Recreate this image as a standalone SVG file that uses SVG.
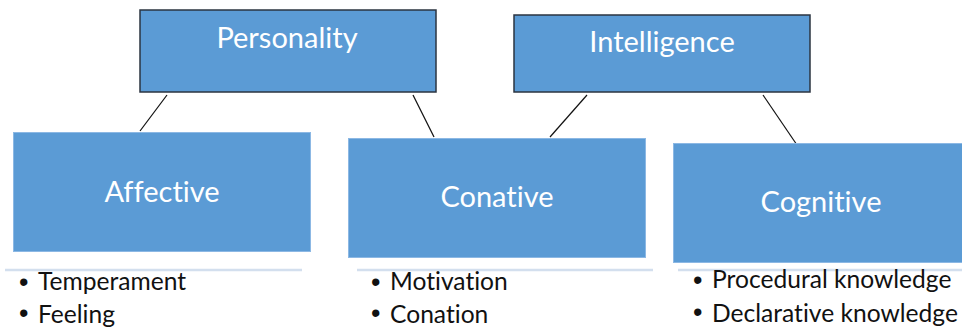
<svg xmlns="http://www.w3.org/2000/svg" width="962" height="329" viewBox="0 0 962 329">
<style>
.top{fill:#5b9bd5;stroke:#2b3440;stroke-width:1.5}
.bot{fill:#5b9bd5;stroke:#8cb8e4;stroke-width:1}
.sep{stroke:#d3dfee;stroke-width:2.5}
text{font-variant-ligatures:none;font-feature-settings:"liga" 0}
.lbl{font-family:Lato,"Liberation Sans",sans-serif;font-size:29px;fill:#ffffff;text-anchor:middle}
.bl{font-family:Lato,"Liberation Sans",sans-serif;font-size:24.6px;fill:#111111}
.dot{font-family:"Liberation Sans",sans-serif;font-size:27px;fill:#111111}
.conn{stroke:#111111;stroke-width:1.2;fill:none}
</style>
<rect width="962" height="329" fill="#ffffff"/>
<g id="connectors">
<line class="conn" x1="167" y1="95" x2="140" y2="131"/>
<line class="conn" x1="413" y1="95" x2="434" y2="137"/>
<line class="conn" x1="587" y1="95" x2="550" y2="137"/>
<line class="conn" x1="763" y1="95" x2="797" y2="145"/>
</g>
<g id="personality">
<rect class="top" x="140" y="10" width="296" height="82"/>
<text class="lbl" x="287" y="48">Personality</text>
</g>
<g id="intelligence">
<rect class="top" x="514" y="15" width="296" height="77"/>
<text class="lbl" x="662" y="52">Intelligence</text>
</g>
<g id="affective">
<rect class="bot" x="13.5" y="132.5" width="297" height="119"/>
<text class="lbl" x="162" y="202">Affective</text>
<line class="sep" x1="5" y1="270" x2="302" y2="270"/>
<text class="dot" x="19" y="291">•</text>
<text class="bl" x="38" y="290">Temperament</text>
<text class="dot" x="19" y="322">•</text>
<text class="bl" x="38" y="323">Feeling</text>
</g>
<g id="conative">
<rect class="bot" x="348.5" y="138.5" width="297" height="119"/>
<text class="lbl" x="497" y="207">Conative</text>
<line class="sep" x1="357" y1="270" x2="653" y2="270"/>
<text class="dot" x="371" y="291">•</text>
<text class="bl" x="390" y="290">Motivation</text>
<text class="dot" x="371" y="322">•</text>
<text class="bl" x="390" y="323">Conation</text>
</g>
<g id="cognitive">
<rect class="bot" x="673.5" y="143.5" width="290" height="119"/>
<text class="lbl" x="821" y="212">Cognitive</text>
<line class="sep" x1="678" y1="270" x2="962" y2="270"/>
<text class="dot" x="693" y="289">•</text>
<text class="bl" x="712" y="288">Procedural knowledge</text>
<text class="dot" x="693" y="321">•</text>
<text class="bl" x="712" y="322">Declarative knowledge</text>
</g>
</svg>
